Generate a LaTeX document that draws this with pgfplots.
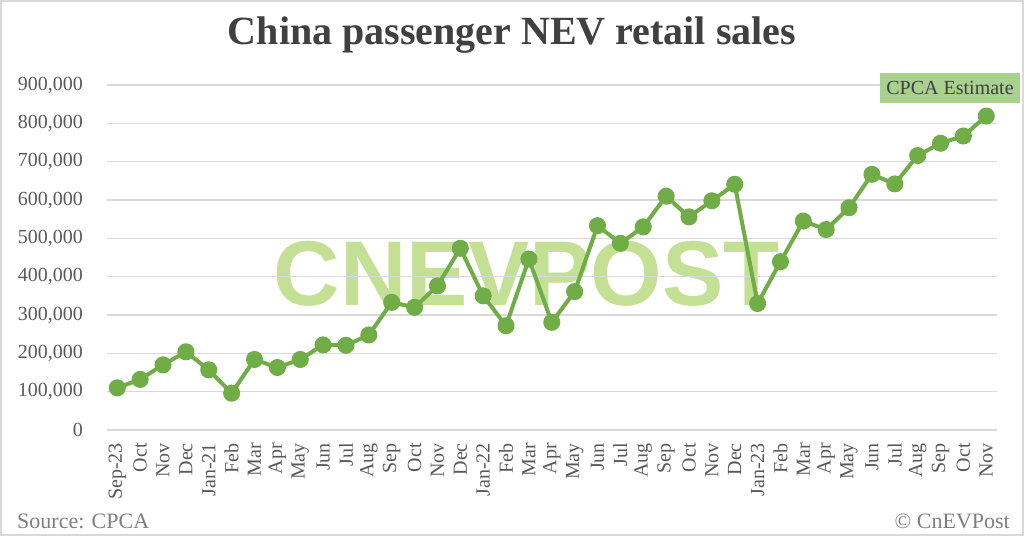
\documentclass[border=0pt]{standalone}
\usepackage{fontspec}
\setmainfont{Liberation Serif}
\newfontfamily\wmfont{Liberation Sans}
\usepackage{pgfplots}
\pgfplotsset{compat=1.18}
\definecolor{linegreen}{HTML}{70AD47}
\definecolor{boxgreen}{HTML}{A9D18E}
\definecolor{wmgreen}{RGB}{196,224,148}
\definecolor{gridgray}{HTML}{D9D9D9}
\definecolor{txtgray}{HTML}{595959}
\definecolor{titlegray}{HTML}{404040}
\definecolor{srcgray}{HTML}{7F7F7F}

\begin{document}
\begin{tikzpicture}[x=1pt,y=1pt]
\path[use as bounding box] (0,0) rectangle (1024,536);
\draw[gridgray, line width=2pt] (1,1) rectangle (1023,535);
% watermark
\node[wmgreen, font=\wmfont\bfseries\fontsize{92}{92}\selectfont] at (527,262) {CNEVPOST};
% title
\node[titlegray, font=\bfseries\fontsize{40}{40}\selectfont, anchor=base] at (512,491) {China passenger NEV retail sales};

\begin{axis}[
    at={(107pt,106pt)}, anchor=south west,
    scale only axis, width=890pt, height=345pt,
    xmin=-0.45, xmax=38.47, ymin=0, ymax=900000,
    axis line style={draw=none},
    major tick length=0pt,
    ymajorgrids,
    major grid style={gridgray, line width=1.5pt},
    scaled y ticks=false,
    ytick={0,100000,200000,300000,400000,500000,600000,700000,800000,900000},
    yticklabels={0,{100,000},{200,000},{300,000},{400,000},{500,000},{600,000},{700,000},{800,000},{900,000}},
    tick label style={txtgray, font=\fontsize{20}{20}\selectfont, inner sep=0pt},
    yticklabel style={anchor=east, xshift=-24pt},
    xtick={0,...,38},
    xticklabels={Sep-23,Oct,Nov,Dec,Jan-21,Feb,Mar,Apr,May,Jun,Jul,Aug,Sep,Oct,Nov,Dec,Jan-22,Feb,Mar,Apr,May,Jun,Jul,Aug,Sep,Oct,Nov,Dec,Jan-23,Feb,Mar,Apr,May,Jun,Jul,Aug,Sep,Oct,Nov},
    xticklabel style={yshift=-13pt, rotate=90, anchor=east},
]
\addplot[linegreen, line width=4pt, mark=*, mark size=6.5pt,
         mark options={draw=none, fill=linegreen}] coordinates {
(0,110000) (1,132000) (2,170000) (3,204000) (4,157000) (5,96000)
(6,184000) (7,163000) (8,184000) (9,222000) (10,221000) (11,248000)
(12,333000) (13,320000) (14,376000) (15,474000) (16,350000) (17,272000)
(18,446000) (19,281000) (20,361000) (21,533000) (22,487000) (23,530000)
(24,610000) (25,556000) (26,598000) (27,641000) (28,330000) (29,439000)
(30,545000) (31,523000) (32,580000) (33,667000) (34,642000) (35,716000)
(36,748000) (37,767000) (38,819000)
};
\end{axis}

\node[fill=boxgreen, minimum width=140pt, minimum height=30pt, inner sep=0pt,
      text=titlegray, font=\fontsize{20}{20}\selectfont] at (950,448) {CPCA Estimate};
\node[srcgray, anchor=base west, inner sep=0pt, font=\fontsize{22}{22}\selectfont] at (17,8) {Source: CPCA};
\node[srcgray, anchor=base east, inner sep=0pt, font=\fontsize{22}{22}\selectfont] at (1010,8) {© CnEVPost};
\end{tikzpicture}
\end{document}
